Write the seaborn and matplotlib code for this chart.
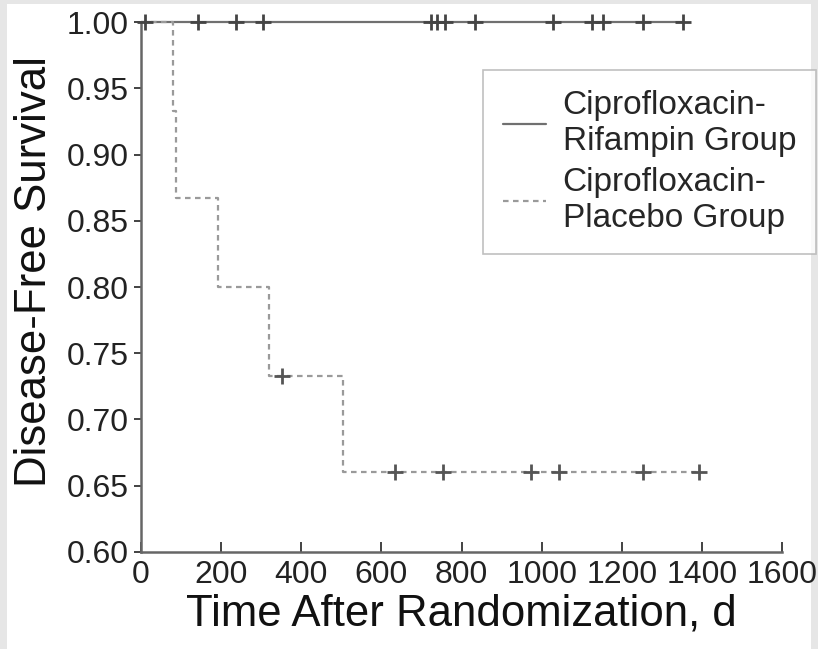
import numpy as np
import pandas as pd
import seaborn as sns
import matplotlib.pyplot as plt
from matplotlib.patches import Rectangle

sns.set_theme(style="ticks")
plt.rcParams['font.family'] = ['Liberation Sans', 'DejaVu Sans']

# Kaplan-Meier steps (days, survival)
rif_tempos = [0, 1353]
rif_sobrev = [1.0, 1.0]
rif_censura = [10, 142, 237, 305, 725, 738, 759, 834, 1028, 1126, 1153, 1253, 1353]

pla_tempos = [0, 80, 87, 192, 320, 504, 1393]
pla_sobrev = [1.0, 0.933, 0.867, 0.800, 0.733, 0.660, 0.660]
pla_censura = [352, 634, 754, 973, 1043, 1253, 1393]

rotulos = ["Ciprofloxacin-\nRifampin Group", "Ciprofloxacin-\nPlacebo Group"]
x_ticks = [0, 200, 400, 600, 800, 1000, 1200, 1400, 1600]
y_ticks = [0.60, 0.65, 0.70, 0.75, 0.80, 0.85, 0.90, 0.95, 1.00]


def valor_degrau(tempos, sobrev, t):
    idx = np.searchsorted(tempos, t, side="right") - 1
    return np.array(sobrev)[idx]


rif = pd.DataFrame({"t": rif_tempos, "s": rif_sobrev})
pla = pd.DataFrame({"t": pla_tempos, "s": pla_sobrev})
rif_c = pd.DataFrame({"t": rif_censura,
                      "s": valor_degrau(rif_tempos, rif_sobrev, rif_censura)})
pla_c = pd.DataFrame({"t": pla_censura,
                      "s": valor_degrau(pla_tempos, pla_sobrev, pla_censura)})

fig = plt.figure(figsize=(8.18, 6.49), dpi=100, facecolor="#e6e6e6")
fundo = Rectangle((0.009, 0.0), 0.983, 0.994, transform=fig.transFigure,
                  facecolor="white", edgecolor="none", zorder=-10)
fig.patches.append(fundo)
ax = fig.add_axes([0.1724, 0.1495, 0.7836, 0.8165])
ax.set_facecolor("none")

sns.lineplot(data=rif, x="t", y="s", ax=ax, drawstyle="steps-post",
             color="#707070", linewidth=1.6, label=rotulos[0], clip_on=False)
sns.lineplot(data=pla, x="t", y="s", ax=ax, drawstyle="steps-post",
             color="#9a9a9a", linewidth=1.6, linestyle=(0, (2.5, 2)),
             label=rotulos[1], clip_on=False)
sns.scatterplot(data=rif_c, x="t", y="s", ax=ax, marker="+", s=130,
                color="#444444", linewidth=2, zorder=5, clip_on=False)
sns.scatterplot(data=pla_c, x="t", y="s", ax=ax, marker="+", s=130,
                color="#555555", linewidth=2, zorder=5, clip_on=False)

ax.set_xlim(0, 1600)
ax.set_ylim(0.60, 1.00)
ax.set_xticks(x_ticks)
ax.set_xticklabels([str(v) for v in x_ticks])
ax.set_yticks(y_ticks)
ax.set_yticklabels([f"{v:.2f}" for v in y_ticks])
ax.tick_params(axis="x", direction="in", length=7, width=1.2, labelsize=23,
               pad=6, colors="#222222")
ax.tick_params(axis="y", direction="out", length=5, width=1.2, labelsize=23,
               pad=4, colors="#222222")
ax.set_xlabel("Time After Randomization, d", fontsize=31.5, color="#111111",
              labelpad=2)
ax.set_ylabel("Disease-Free Survival", fontsize=31.5, color="#111111",
              labelpad=6)
ax.yaxis.set_label_coords(-0.134, 0.53)
sns.despine(ax=ax)
for lado in ["left", "bottom"]:
    ax.spines[lado].set_linewidth(1.8)
    ax.spines[lado].set_color("#666666")

leg = ax.legend(loc="upper left", bbox_to_anchor=(0.533, 0.909), fontsize=24,
                frameon=True, fancybox=False, edgecolor="#b0b0b0",
                handlelength=1.3, handletextpad=0.5, labelspacing=0.3,
                borderpad=0.6, borderaxespad=0)
leg.get_frame().set_linewidth(1.2)

fig.savefig("out.png", dpi=100, facecolor=fig.get_facecolor())
